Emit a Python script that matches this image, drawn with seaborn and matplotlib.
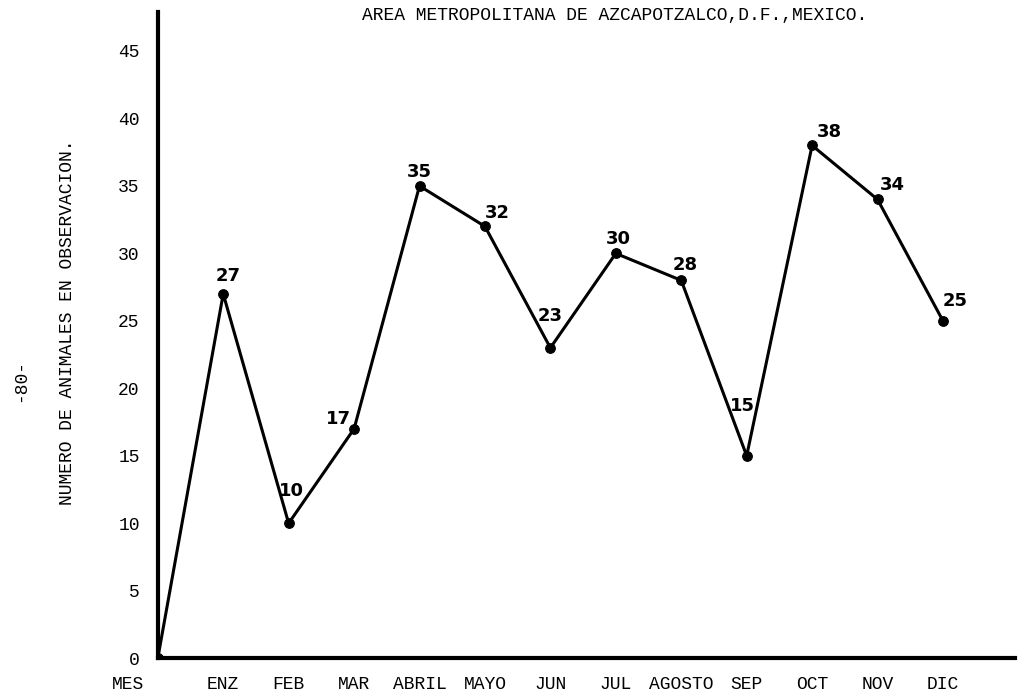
import matplotlib
matplotlib.use("Agg")
import matplotlib.pyplot as plt
import matplotlib.transforms as mtransforms
import seaborn as sns
import pandas as pd

meses = ["MES", "ENZ", "FEB", "MAR", "ABRIL", "MAYO", "JUN", "JUL",
         "AGOSTO", "SEP", "OCT", "NOV", "DIC"]
animales = [0, 27, 10, 17, 35, 32, 23, 30, 28, 15, 38, 34, 25]
y_ticks = [0, 5, 10, 15, 20, 25, 30, 35, 40, 45]

# label offsets from the point, in pixels
offsets = [None, (5, 18), (3, 32), (-16, 10), (0, 14), (12, 13), (0, 32),
           (3, 14), (4, 15), (-4, 50), (17, 13), (15, 14), (12, 20)]

df = pd.DataFrame({"pos": range(len(meses)), "mes": meses, "n": animales})

sns.set_style("white")
plt.rcParams["text.color"] = "black"
plt.rcParams["xtick.color"] = "black"
plt.rcParams["ytick.color"] = "black"
mono = ["Liberation Mono", "DejaVu Sans Mono"]

fig = plt.figure(figsize=(10.18, 6.98), dpi=100)
ax = fig.add_axes([0.155, 0.057, 0.842, 0.926])

sns.lineplot(data=df, x="pos", y="n", ax=ax, color="black", linewidth=2.2,
             marker="o", markersize=7, markeredgecolor="black")

for i, row in df.iterrows():
    if offsets[i] is None:
        continue
    ax.annotate(str(row["n"]), (row["pos"], row["n"]), xytext=offsets[i],
                textcoords="offset pixels", ha="center", va="center",
                fontsize=13, fontweight="bold", family="DejaVu Sans",
                color="black")

ax.set_xlim(0, 13.1)
ax.set_ylim(0, 47.9)
ax.set_xticks(df["pos"])
ax.set_xticklabels(meses, family=mono, fontsize=13)
ax.set_yticks(y_ticks)
ax.set_yticklabels([str(v) for v in y_ticks], family=mono, fontsize=13)
ax.tick_params(axis="x", direction="in", length=5, width=1.5, pad=13)
ax.tick_params(axis="y", direction="out", length=5, width=1.5, pad=8)

# MES sits left of the origin
mes_lbl = ax.get_xticklabels()[0]
mes_lbl.set_transform(mes_lbl.get_transform()
                      + mtransforms.ScaledTranslation(-0.30, 0, fig.dpi_scale_trans))

for s in ["top", "right"]:
    ax.spines[s].set_visible(False)
for s in ["left", "bottom"]:
    ax.spines[s].set_linewidth(3)
    ax.spines[s].set_color("black")

ax.set_xlabel("")
ax.set_ylabel("NUMERO DE ANIMALES EN OBSERVACION.", family=mono, fontsize=13,
              color="black")
ax.yaxis.set_label_coords(-0.095, 0.52)

fig.text(0.604, 0.978, "AREA METROPOLITANA DE AZCAPOTZALCO,D.F.,MEXICO.",
         ha="center", va="center", family=mono, fontsize=13)
fig.text(0.02, 0.455, "-80-", rotation=90, ha="center", va="center",
         family=mono, fontsize=13)

fig.savefig("out.png", dpi=100, facecolor="white")
